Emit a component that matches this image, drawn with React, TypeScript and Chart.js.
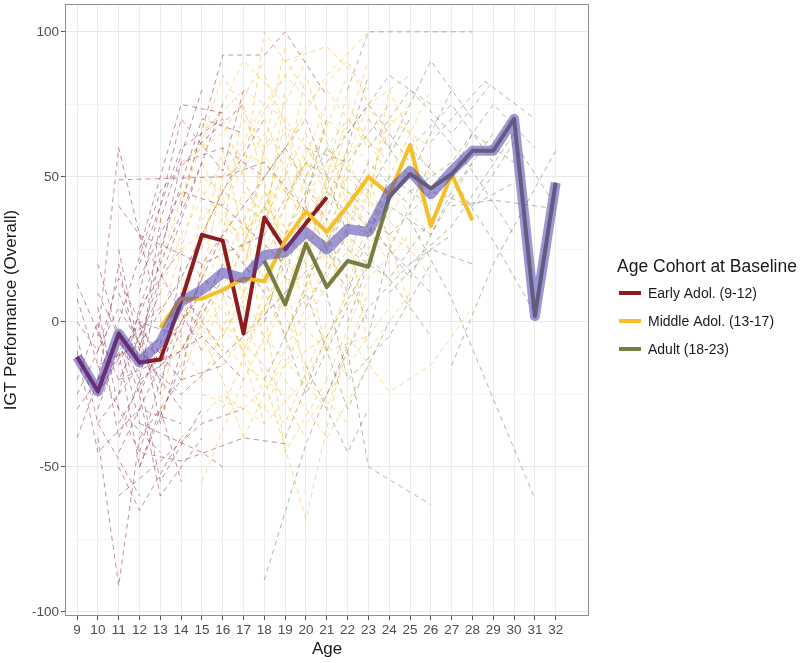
import { useEffect, useRef } from "react";
import { Chart, registerables } from "chart.js";

Chart.register(...registerables);

// ---------- data ----------
const ages = [9, 10, 11, 12, 13, 14, 15, 16, 17, 18, 19, 20, 21, 22, 23, 24, 25, 26, 27, 28, 29, 30, 31, 32];
const overallScores = [-12, -24, -4, -14, -7, 7, 11, 17, 15, 23, 24, 31, 25, 32, 31, 45, 52, 44, 52, 59, 59, 70, 2, 48];

const earlyAges = [9, 10, 11, 12, 13, 14, 15, 16, 17, 18, 19, 20, 21];
const earlyScores = [-12, -24, -4, -14, -13, 7, 30, 28, -4, 36, 25, 34, 43];

const middleAges = [13, 14, 15, 16, 17, 18, 19, 20, 21, 22, 23, 24, 25, 26, 27, 28];
const middleScores = [-2, 8, 8, 11, 15, 14, 28, 38, 31, 40, 50, 44, 61, 33, 51, 35];

const adultAges = [18, 19, 20, 21, 22, 23, 24, 25, 26, 27, 28, 29, 30, 31, 32];
const adultScores = [21, 6, 27, 12, 21, 19, 43, 51, 46, 51, 59, 59, 70, 2, 48];

const xTickValues = ages;
const yTickValues = [-100, -75, -50, -25, 0, 25, 50, 75, 100];

const cohortLabels = ["Early Adol. (9-12)", "Middle Adol. (13-17)", "Adult (18-23)"];
const legendTitle = "Age Cohort at Baseline";
const xTitle = "Age";
const yTitle = "IGT Performance (Overall)";

// individual trajectories: [age, score]
const earlyTrajectories: [number, number][][] = [
  [[9, 13], [11, -20], [13, 10]],
  [[9, -40], [10, -20], [12, -5]],
  [[10, -5], [11, 60], [12.5, 15]],
  [[11, 49], [16, 50], [18, 55], [20, 38]],
  [[10, -40], [11, -91], [12, -40]],
  [[11, -50], [12, -65], [14, -40]],
  [[12, -20], [13, -55], [15, -30]],
  [[14, 40], [16, 92], [18, 92], [19, 100], [21, 78]],
  [[9, -10], [10, -45], [12, -30]],
  [[9, -30], [11, -10], [12, -50], [14, -15]],
  [[10, 5], [11, -30], [13, -45]],
  [[11, -15], [13, 20], [15, 55]],
  [[12, -5], [14, 35], [16, 75]],
  [[11, -35], [13, -10], [15, 10]],
  [[12, -40], [14, -20], [16, -15]],
  [[10, -25], [12, 0], [14, -5]],
  [[9, -20], [10, 0], [11, -40], [12, -20]],
  [[12, 5], [13, 25], [15, 70], [17, 65]],
  [[11, 10], [13, -25], [14, 20]],
  [[12, -30], [14, 0], [16, 30], [18, 10]],
  [[10, -15], [12, -45], [14, -48], [17, -40], [19, -42]],
  [[12, -10], [14, 55], [16, 60], [18, 50]],
  [[11, -5], [12, -25], [13, -60], [15, -40]],
  [[12, 15], [14, 45], [16, 40], [19, 20]],
  [[10, -35], [12, -15], [13, -5]],
  [[12, -20], [15, -5], [17, -20]],
  [[11, 25], [12, -10], [14, -30]],
  [[12, -35], [15, -45], [16, -50]],
  [[12, -25], [14, 10], [16, -10]],
  [[12, -2], [14, -20], [15, 20], [18, 30]],
  [[11, -60], [13, -48], [15, -35], [17, -30]],
  [[9, 0], [10, -10], [11, 15], [13, -15]],
  [[10, 20], [11, -5], [12, -35]],
  [[12, 10], [14, 70], [16, 52], [17, 80]],
  [[11, 40], [12, 30], [15, -10]],
  [[9, -5], [10, -35], [12, -60]],
  [[12, 20], [14, 60], [16, 70]],
  [[12, -15], [13, 35], [15, 80]],
  [[11, 0], [13, 45], [15, 62], [17, 75]],
  [[12, -8], [14, 15], [16, 45], [18, 70]],
  [[9, -25], [11, 5], [13, -20]],
  [[10, 10], [12, -20], [13, 15]],
  [[11, -25], [12, 5], [14, 25]],
  [[12, -45], [13, -20], [15, 15], [17, 5]],
  [[9, 8], [10, -15], [12, -8]],
  [[10, -30], [11, -10], [13, 5]],
  [[12, 0], [13, -35], [14, -10], [16, 15]],
  [[11, -45], [12, -30], [14, -35]],
  [[12, 25], [13, 50], [14, 75], [16, 72]],
  [[12, -12], [14, -25], [17, -5], [19, 10]],
  [[10, -20], [11, 20], [12, -15]],
  [[12, 30], [15, 20], [17, 40], [19, 60]],
  [[11, -20], [14, -10], [16, 20]],
  [[12, -50], [13, -30], [14, -55]],
];

const middleTrajectories: [number, number][][] = [
  [[13, -10], [15, 30], [17, 60]],
  [[14, -20], [16, 20], [18, 50]],
  [[15, -55], [17, -20], [19, 10]],
  [[13, 20], [15, 65], [17, 80], [19, 70]],
  [[14, 40], [16, 85], [18, 60], [20, 90]],
  [[15, 10], [17, 45], [19, 30]],
  [[16, -30], [18, 5], [20, 40]],
  [[17, -40], [19, -10], [21, 20]],
  [[13, -30], [14, 5], [16, -10]],
  [[14, 10], [16, -20], [17, -40]],
  [[15, 30], [17, 10], [19, 55]],
  [[16, 50], [18, 75], [20, 95]],
  [[17, 20], [19, 60], [21, 85], [23, 100]],
  [[13, 5], [15, -20], [17, 15]],
  [[14, -5], [15, 40], [17, 30]],
  [[15, 60], [17, 90], [19, 75]],
  [[16, 0], [18, -15], [20, -40]],
  [[17, -10], [19, 30], [21, 55]],
  [[17, 5], [20, -68], [22, -5]],
  [[16, 25], [18, -5], [21, -30], [23, 10]],
  [[15, -25], [17, -30], [19, -15], [21, -5]],
  [[14, 25], [16, 35], [18, 15]],
  [[16, 15], [18, 40], [20, 25], [22, 60]],
  [[17, 35], [19, 5], [21, 40]],
  [[18, 45], [20, 20], [22, 80]],
  [[19, 30], [21, 70], [23, 55]],
  [[20, 10], [22, 45], [24, 20]],
  [[21, -20], [23, 15], [25, 30]],
  [[19, -20], [21, -40], [23, -15]],
  [[22, 50], [24, 35], [26, 15]],
  [[20, 75], [22, 90], [24, 60]],
  [[21, 40], [23, 75], [25, 85]],
  [[23, 25], [25, 55], [27, 42]],
  [[22, -5], [24, -24], [26, -15], [28, 5]],
  [[13, -15], [16, 5], [18, -25]],
  [[15, -10], [18, 45], [20, 5]],
  [[14, 55], [16, 65], [18, 90]],
  [[16, -15], [19, 15], [21, 10]],
  [[18, -30], [20, 0], [22, 25]],
  [[17, 70], [19, 45], [21, 65]],
  [[13, 35], [15, 15], [16, 50]],
  [[15, 45], [18, 20], [20, 60]],
  [[19, 65], [21, 20], [23, 45]],
  [[20, -35], [22, -15], [24, 5]],
  [[22, 20], [24, 70], [26, 60]],
  [[14, -40], [16, -25], [18, -35]],
  [[16, 70], [18, 30], [19, 80]],
  [[18, 85], [20, 50], [22, 70]],
  [[19, 5], [21, -10], [23, 35], [25, 25]],
  [[21, 60], [23, 30], [25, 45]],
  [[15, 20], [16, -5], [18, 25], [20, 15]],
  [[17, 50], [18, 100], [20, 80]],
  [[20, 55], [22, 5], [24, 40]],
  [[15, 35], [17, 55], [19, 40], [21, 75]],
  [[16, 40], [18, 65], [20, 50], [22, 85]],
  [[17, 60], [19, 85], [21, 70]],
  [[18, 25], [20, 55], [22, 35], [24, 65]],
  [[19, 45], [21, 30], [23, 70]],
  [[20, 30], [22, 70], [24, 55]],
  [[21, 80], [23, 60], [25, 75]],
  [[16, 60], [17, 30], [19, 50]],
  [[17, 15], [18, 60], [20, 70]],
  [[18, 70], [20, 35], [22, 50]],
  [[19, 90], [21, 95], [23, 80]],
  [[20, 45], [22, 25], [24, 45], [26, 30]],
  [[14, 15], [16, 45], [18, 35], [20, 65]],
  [[15, 0], [17, 25], [19, -5], [21, 30]],
  [[16, -5], [18, 20], [20, -15]],
  [[17, -25], [19, -35], [21, 0]],
  [[18, 5], [19, -45], [21, -20]],
  [[19, 15], [20, -20], [22, 10]],
  [[20, 20], [21, -10], [23, -5]],
  [[21, 15], [23, 50], [25, 5]],
  [[22, 35], [23, -10], [25, 10]],
  [[23, 40], [24, 80], [26, 50]],
  [[22, 75], [24, 50], [26, 80]],
  [[13, 10], [14, 30], [16, 55], [18, 40]],
  [[14, -15], [15, 5], [17, -10], [19, 20]],
  [[15, 25], [16, 60], [18, 55], [20, 35]],
  [[16, 30], [17, 75], [19, 20]],
  [[17, 40], [18, -10], [20, 30], [22, 15]],
  [[18, 35], [19, 70], [21, 50], [23, 65]],
  [[19, 50], [20, 85], [22, 40]],
  [[20, 65], [21, 45], [23, 90]],
  [[21, 25], [22, 55], [24, 30]],
  [[14, 5], [17, -15], [19, -25]],
  [[16, 10], [18, -35], [20, -20], [22, -35]],
  [[13, 0], [15, 50], [17, 40]],
  [[15, 55], [17, 25], [19, 95]],
];

const adultTrajectories: [number, number][][] = [
  [[18, -89], [20, -42], [22, -8]],
  [[22, -10], [23, -50], [26, -63]],
  [[25, 35], [27, 8], [31, -61]],
  [[22, 80], [23, 100], [28, 100]],
  [[19, 30], [21, 60], [23, 45], [25, 70]],
  [[20, 15], [22, 40], [24, 25], [26, 55]],
  [[23, 60], [25, 80], [27, 65], [29, 83]],
  [[24, 30], [26, 45], [28, 40], [30, 48]],
  [[26, 62], [28.6, 83], [31, 70]],
  [[27, 40], [29, 42], [32, 39]],
  [[27, -15], [29, 20], [32, 59]],
  [[27, 50], [29, 28], [31, 3]],
  [[18, -20], [20, 10], [22, -30], [24, 0]],
  [[19, -40], [21, -5], [23, 20]],
  [[20, 40], [22, 10], [24, 50], [26, 40]],
  [[21, -25], [23, 5], [25, 20], [27, 30]],
  [[22, 65], [24, 85], [26, 75]],
  [[18, 50], [20, 70], [22, 30]],
  [[23, 35], [25, 15], [27, 45], [29, 65]],
  [[24, 60], [26, 90], [28, 70]],
  [[25, 20], [27, 33], [30, 65]],
  [[26, 70], [28, 52], [30, 30]],
  [[19, 60], [21, 35], [23, 85]],
  [[20, -15], [22, -45], [23, -30]],
  [[25, 45], [27, 55], [29, 75], [31, 60]],
  [[21, 10], [22, -20], [24, -5], [26, 20]],
  [[18, 0], [19, 25], [21, 45]],
  [[23, -5], [24, 25], [26, 10]],
  [[28, 40], [30, 62], [32, 40]],
  [[18, 30], [20, 55], [22, 45], [24, 30]],
  [[19, 10], [21, 25], [23, 55], [25, 40]],
  [[20, 60], [22, 55], [24, 75]],
  [[21, 45], [23, 30], [25, 60], [27, 45]],
  [[22, 25], [24, 15], [26, 35]],
  [[23, 70], [25, 50], [27, 80]],
  [[18, 15], [20, -25], [22, 5]],
  [[19, -5], [21, 30], [23, 0]],
  [[20, 5], [22, 30], [24, 15], [26, -5]],
  [[21, 55], [23, 75], [25, 55]],
  [[22, 0], [24, 40], [26, 30], [28, 55]],
  [[24, 10], [26, 25], [28, 20]],
  [[25, 60], [27, 75], [29, 55]],
  [[18, 40], [19, 15], [21, 70]],
  [[26, 35], [28, 65], [30, 55]],
];

// ---------- styles ----------
const FONT = '"Liberation Sans", Arial, Helvetica, sans-serif';
const cohortColors = ["#8c1c1f", "#f5bf2a", "#7a7d42"];
const trajectoryColors = ["rgba(135,35,60,0.5)", "rgba(243,188,45,0.55)", "rgba(110,112,75,0.5)"];
const overallColor = "rgba(76,66,180,0.55)";

const toXY = (xs: number[], ys: number[]) => xs.map((x, i) => ({ x, y: ys[i] }));

const panelAndLegend = {
  id: "panelAndLegend",
  afterDatasetsDraw(chart: any) {
    const { ctx, chartArea } = chart;
    const { left, top, right, bottom } = chartArea;
    ctx.save();
    ctx.strokeStyle = "#8e8e8e";
    ctx.lineWidth = 1;
    ctx.strokeRect(left + 0.5, top + 0.5, right - left - 1, bottom - top - 1);
    ctx.restore();
  },
  afterDraw(chart: any) {
    const { ctx, chartArea } = chart;
    const cy = (chartArea.top + chartArea.bottom) / 2;
    const x0 = chartArea.right + 28;
    ctx.save();
    ctx.textBaseline = "middle";
    ctx.textAlign = "left";
    ctx.fillStyle = "#1a1a1a";
    ctx.font = `17.5px ${FONT}`;
    ctx.fillText(legendTitle, x0, cy - 43);
    ctx.font = `14px ${FONT}`;
    cohortLabels.forEach((label, i) => {
      const y = cy - 17 + i * 28;
      ctx.strokeStyle = cohortColors[i];
      ctx.lineWidth = 4;
      ctx.beginPath();
      ctx.moveTo(x0 + 2, y);
      ctx.lineTo(x0 + 24, y);
      ctx.stroke();
      ctx.fillStyle = "#1a1a1a";
      ctx.fillText(label, x0 + 31, y + 1);
    });
    ctx.restore();
  },
};

export default function App() {
  const canvasRef = useRef<HTMLCanvasElement | null>(null);

  useEffect(() => {
    if (!canvasRef.current) return;
    Chart.defaults.font.family = FONT;

    const trajSets: any[] = [];
    [earlyTrajectories, middleTrajectories, adultTrajectories].forEach((group, gi) => {
      group.forEach((traj) => {
        trajSets.push({
          label: "",
          data: traj.map(([x, y]) => ({ x, y })),
          borderColor: trajectoryColors[gi],
          borderWidth: 1,
          borderDash: [5, 4],
          pointRadius: 0,
          fill: false,
          tension: 0,
          order: 3,
        });
      });
    });

    const cohortSets = [
      toXY(earlyAges, earlyScores),
      toXY(middleAges, middleScores),
      toXY(adultAges, adultScores),
    ].map((data, i) => ({
      label: cohortLabels[i],
      data,
      borderColor: cohortColors[i],
      borderWidth: 4,
      pointRadius: 0,
      fill: false,
      tension: 0,
      borderJoinStyle: "round" as const,
      order: 2 - i * 0.1,
    }));

    const overallSet = {
      label: "Overall",
      data: toXY(ages, overallScores),
      borderColor: overallColor,
      borderWidth: 10,
      pointRadius: 0,
      fill: false,
      tension: 0,
      borderJoinStyle: "round" as const,
      order: 0,
    };

    const chart = new Chart(canvasRef.current, {
      type: "line",
      data: { datasets: [overallSet, ...cohortSets, ...trajSets] as any },
      plugins: [panelAndLegend],
      options: {
        animation: false,
        responsive: false,
        events: [],
        layout: { padding: { top: 4, right: 211, bottom: 0, left: 0 } },
        plugins: { legend: { display: false }, tooltip: { enabled: false } },
        scales: {
          x: {
            type: "linear",
            min: 8.42,
            max: 33.6,
            afterBuildTicks: (s: any) => {
              s.ticks = xTickValues.map((v) => ({ value: v }));
            },
            afterFit: (s: any) => {
              s.height = 47;
              s.paddingLeft = 0;
              s.paddingRight = 0;
            },
            ticks: {
              autoSkip: false,
              maxRotation: 0,
              color: "#4d4d4d",
              font: { size: 13.5, family: FONT },
              padding: 2.5,
              callback: (v: any) => String(v),
            },
            grid: { color: "#ebebeb", lineWidth: 1, tickLength: 4, tickColor: "#555555" },
            border: { display: false },
            title: {
              display: true,
              text: xTitle,
              color: "#1a1a1a",
              font: { size: 17, family: FONT },
              padding: { top: 0, bottom: 3 },
            },
          },
          y: {
            type: "linear",
            min: -101.4,
            max: 109.6,
            afterBuildTicks: (s: any) => {
              s.ticks = yTickValues.map((v) => ({ value: v }));
            },
            afterFit: (s: any) => {
              s.width = 65;
              s.paddingTop = 0;
              s.paddingBottom = 0;
            },
            ticks: {
              autoSkip: false,
              color: "#4d4d4d",
              font: { size: 13.5, family: FONT },
              padding: 2,
              callback: (v: any) => (Number(v) % 50 === 0 ? String(v) : ""),
            },
            grid: {
              color: (c: any) => (c.tick && c.tick.value % 50 === 0 ? "#e8e8e8" : "#f3f3f3"),
              lineWidth: (c: any) => (c.tick && c.tick.value % 50 === 0 ? 1 : 0.8),
              tickLength: 4,
              tickColor: (c: any) => (c.tick && c.tick.value % 50 === 0 ? "#555555" : "rgba(0,0,0,0)"),
            },
            border: { display: false },
            title: {
              display: true,
              text: yTitle,
              color: "#1a1a1a",
              font: { size: 17, family: FONT },
              padding: { top: 1, bottom: 0 },
            },
          },
        },
      } as any,
    });

    return () => chart.destroy();
  }, []);

  return (
    <div style={{ position: "absolute", left: 0, top: 0, width: 800, height: 663, background: "#ffffff" }}>
      <canvas ref={canvasRef} width={800} height={663} style={{ width: 800, height: 663, display: "block" }} />
    </div>
  );
}
